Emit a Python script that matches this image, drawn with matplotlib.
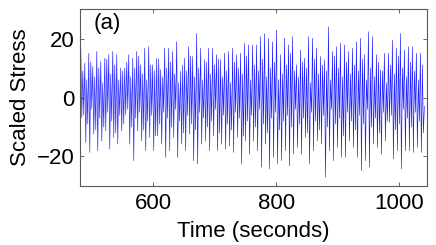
import matplotlib
matplotlib.use("Agg")
import matplotlib.pyplot as plt
import numpy as np

# time span covered by the record (seconds)
t_start = 480
t_end = 1041

# main local maxima, left to right
peaks = [
    17.2, 11.7, 15.0, 10.5, 15.6, 12.2, 13.3, 14.5, 15.6, 14.5, 10.0,
    10.0, 14.5, 13.3, 15.6, 11.1, 16.7, 17.2, 11.1, 13.3, 9.4, 16.7,
    16.7, 15.6, 18.9, 8.8, 13.3, 17.2, 13.9, 21.7, 16.7, 12.8, 16.7,
    16.7, 14.5, 12.8, 15.0, 15.6, 16.7, 14.5, 15.0, 18.4, 17.8, 17.8,
    17.8, 20.6, 21.7, 20.1, 18.9, 22.9, 14.5, 20.1, 17.8, 20.6, 11.1,
    16.1, 13.3, 20.6, 20.1, 16.7, 13.9, 12.8, 24.0, 15.6, 17.2, 18.4,
    17.8, 15.6, 16.7, 18.9, 20.1, 14.5, 22.3, 20.6, 14.5, 9.4, 15.0,
    15.0, 19.5, 16.7, 21.7, 16.1, 17.2, 17.2, 15.0, 15.0, 17.2,
]

# main local minima, left to right
troughs = [
    -6.8, -15.2, -18.6, -12.4, -18.0, -14.7, -11.3, -17.5, -13.5, -15.8, -11.3,
    -5.7, -15.8, -21.4, -11.3, -14.7, -18.0, -13.5, -18.0, -13.0, -15.8, -20.3,
    -18.0, -13.5, -20.3, -15.8, -18.0, -12.4, -21.4, -22.5, -15.8, -14.7, -18.0,
    -13.0, -18.0, -15.8, -17.5, -16.4, -18.6, -13.5, -22.5, -14.7, -19.2, -14.7,
    -18.0, -23.6, -15.8, -24.2, -20.3, -22.5, -21.4, -18.0, -23.1, -19.2, -16.9,
    -19.2, -13.5, -22.5, -18.0, -14.7, -15.8, -27.0, -18.0, -21.4, -16.9, -20.3,
    -20.3, -14.7, -16.9, -20.3, -24.8, -21.4, -23.6, -15.8, -16.9, -19.2, -14.7,
    -8.5, -20.8, -18.0, -24.2, -18.0, -18.0, -18.6, -16.9, -18.6, -12.4,
]

# fainter in-between swings (lighter lines seen between the main ones)
minor_hi = [
    9, 6, 12, 7, 10, 5, 13, 8, 11, 6, 9, 12, 7, 10, 14, 8, 6, 11, 9, 13, 7, 10,
    12, 8, 5, 11, 9, 14, 7, 10, 6, 12, 8, 11, 13, 7, 9, 5, 12, 10, 8, 14, 6, 11,
    9, 13, 7, 10, 12, 6, 8, 11, 15, 9, 7, 12, 10, 5, 13, 8, 11, 9, 6, 14, 10, 7,
    12, 8, 11, 9, 13, 6, 10, 7, 12, 9, 5, 11, 8, 14, 10, 7, 12, 9, 6, 11,
]
minor_lo = [
    -6, -9, -4, -11, -7, -10, -5, -8, -12, -6, -9, -4, -10, -7, -5, -11, -8, -6,
    -13, -9, -5, -7, -10, -4, -8, -12, -6, -9, -11, -5, -7, -10, -8, -4, -12, -6,
    -9, -11, -5, -7, -13, -8, -6, -10, -4, -9, -12, -7, -5, -11, -8, -6, -10, -4,
    -9, -7, -12, -5, -8, -11, -6, -10, -4, -9, -7, -13, -5, -8, -11, -6, -9, -4,
    -10, -7, -12, -5, -8, -6, -11, -9, -4, -7, -10, -5, -8, -12,
]

first_value = 4.0
last_value = -3.0

stress = [first_value]
for p, q, a, b in zip(peaks, troughs, minor_hi, minor_lo):
    stress += [p, q, a, b]
stress.append(last_value)
stress = np.array(stress)
time = np.linspace(t_start, t_end, len(stress))

plt.rcParams["font.family"] = ["Liberation Sans", "DejaVu Sans"]

fig = plt.figure(figsize=(4.36, 2.45), dpi=100)
ax = fig.add_axes([0.183, 0.241, 0.796, 0.722])
ax.plot(time, stress, color="#2020ff", linewidth=0.45)

ax.set_xlim(480, 1045)
ax.set_ylim(-30, 30)
ax.set_xticks([600, 800, 1000])
ax.set_yticks([-20, 0, 20])
ax.tick_params(direction="in", length=3, width=0.6, labelsize=16,
               top=True, right=True, color="0.3")
ax.tick_params(axis="x", pad=5)
ax.tick_params(axis="y", pad=4)
for s in ax.spines.values():
    s.set_color("0.35")
    s.set_linewidth(0.8)

ax.set_xlabel("Time (seconds)", fontsize=16, va="bottom")
ax.xaxis.set_label_coords(0.5, -0.315)
ax.set_ylabel("Scaled Stress", fontsize=16, labelpad=4)
ax.text(0.04, 0.98, "(a)", transform=ax.transAxes, fontsize=16,
        va="top", ha="left")

fig.savefig("out.png", dpi=100)
